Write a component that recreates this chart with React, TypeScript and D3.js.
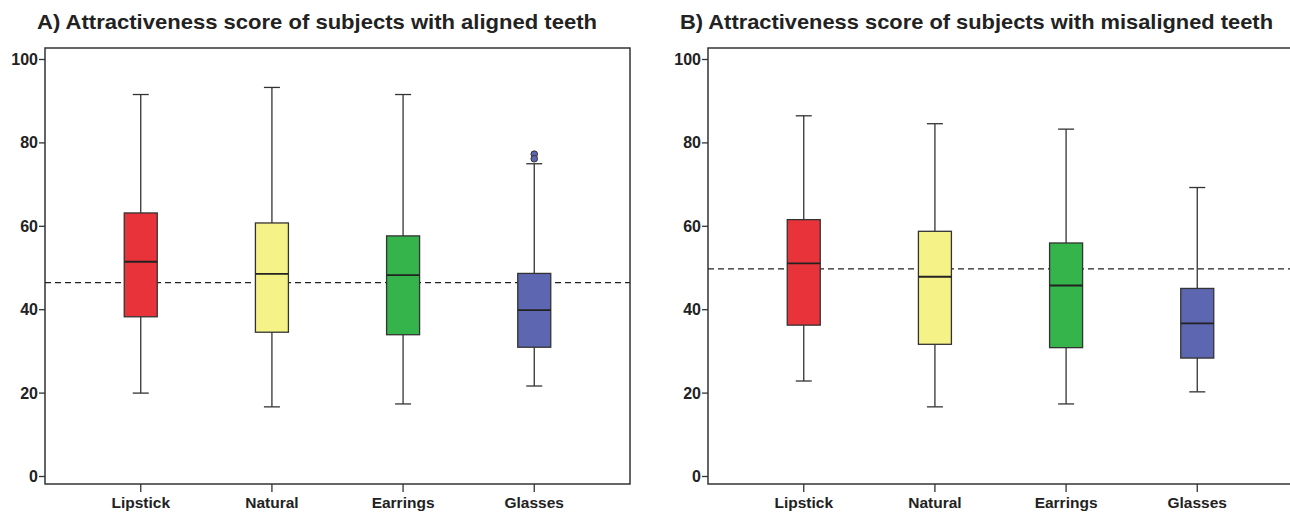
import React from 'react';
import * as d3 from 'd3';

// categories and colours
const CATEGORIES = ['Lipstick', 'Natural', 'Earrings', 'Glasses'];
const COLORS = ['#e8333a', '#f5f288', '#34b44b', '#5d66b0'];
const Y_TICKS = [0, 20, 40, 60, 80, 100];

// panel A: aligned teeth  [low whisker, Q1, median, Q3, high whisker]
const ALIGNED_LOW = [20.0, 16.7, 17.4, 21.7];
const ALIGNED_Q1 = [38.3, 34.6, 34.0, 31.0];
const ALIGNED_MED = [51.5, 48.6, 48.3, 39.9];
const ALIGNED_Q3 = [63.2, 60.8, 57.7, 48.7];
const ALIGNED_HIGH = [91.6, 93.3, 91.6, 75.0];
const ALIGNED_OUTLIERS = [[], [], [], [77.3, 76.2]];
const ALIGNED_MEAN = 46.5;

// panel B: misaligned teeth
const MISALIGNED_LOW = [22.9, 16.7, 17.4, 20.3];
const MISALIGNED_Q1 = [36.3, 31.7, 30.9, 28.4];
const MISALIGNED_MED = [51.1, 47.9, 45.8, 36.7];
const MISALIGNED_Q3 = [61.6, 58.8, 56.0, 45.1];
const MISALIGNED_HIGH = [86.5, 84.6, 83.3, 69.3];
const MISALIGNED_OUTLIERS = [[], [], [], []];
const MISALIGNED_MEAN = 49.8;

const FONT = '"Liberation Sans", Arial, sans-serif';

type PanelProps = {
  title: string;
  titleX: number;
  titleW: number;
  left: number;
  low: number[];
  q1: number[];
  med: number[];
  q3: number[];
  high: number[];
  outliers: number[][];
  mean: number;
};

const Panel = ({ title, titleX, titleW, left, low, q1, med, q3, high, outliers, mean }: PanelProps) => {
  const top = 48;
  const bottom = 484;
  const width = 585;
  const right = left + width;

  const y = d3.scaleLinear().domain([0, 100]).range([476.5, 59.5]);
  const x = d3.scalePoint<string>().domain(CATEGORIES).range([left, right]).padding(0.73);

  const boxW = 33;
  const capW = 16;

  return (
    <g>
      <text x={titleX} y={29} fontFamily={FONT} fontWeight="bold" fontSize={20.5} fill="#222"
        textLength={titleW} lengthAdjust="spacingAndGlyphs">
        {title}
      </text>
      {/* frame */}
      <rect x={left} y={top} width={width} height={bottom - top} fill="none" stroke="#333" strokeWidth={1.5} />

      {/* y axis ticks */}
      {Y_TICKS.map(t => (
        <g key={t}>
          <line x1={left - 6} x2={left} y1={y(t)} y2={y(t)} stroke="#333" strokeWidth={1.3} />
          <text x={left - 7} y={y(t) + 5.5} textAnchor="end" fontFamily={FONT} fontWeight="bold" fontSize={16} fill="#222">
            {t}
          </text>
        </g>
      ))}

      {/* x axis ticks */}
      {CATEGORIES.map(c => (
        <g key={c}>
          <line x1={x(c)} x2={x(c)} y1={bottom} y2={bottom + 8} stroke="#333" strokeWidth={1.3} />
          <text x={x(c)} y={508} textAnchor="middle" fontFamily={FONT} fontWeight="bold" fontSize={15.5} fill="#222">
            {c}
          </text>
        </g>
      ))}

      {/* mean reference line */}
      <line x1={left} x2={right} y1={y(mean)} y2={y(mean)} stroke="#222" strokeWidth={1.2} strokeDasharray="6,4" />

      {/* boxes */}
      {CATEGORIES.map((c, i) => {
        const cx = x(c) as number;
        return (
          <g key={c}>
            <line x1={cx} x2={cx} y1={y(high[i])} y2={y(q3[i])} stroke="#333" strokeWidth={1.3} />
            <line x1={cx} x2={cx} y1={y(q1[i])} y2={y(low[i])} stroke="#333" strokeWidth={1.3} />
            <line x1={cx - capW / 2} x2={cx + capW / 2} y1={y(high[i])} y2={y(high[i])} stroke="#333" strokeWidth={1.3} />
            <line x1={cx - capW / 2} x2={cx + capW / 2} y1={y(low[i])} y2={y(low[i])} stroke="#333" strokeWidth={1.3} />
            <rect
              x={cx - boxW / 2}
              y={y(q3[i])}
              width={boxW}
              height={y(q1[i]) - y(q3[i])}
              fill={COLORS[i]}
              stroke="#333"
              strokeWidth={1.3}
            />
            <line x1={cx - boxW / 2} x2={cx + boxW / 2} y1={y(med[i])} y2={y(med[i])} stroke="#222" strokeWidth={1.8} />
            {outliers[i].map((o, j) => (
              <circle key={j} cx={cx} cy={y(o)} r={3.3} fill={COLORS[i]} stroke="#333" strokeWidth={1} />
            ))}
          </g>
        );
      })}
    </g>
  );
};

const App = () => {
  return (
    <svg width={1290} height={512} style={{ position: 'absolute', left: 0, top: 0, background: '#fff' }}>
      <rect width={1290} height={512} fill="#fff" />
      <Panel
        title="A)  Attractiveness score of subjects with aligned teeth"
        titleX={37}
        titleW={560}
        left={45}
        low={ALIGNED_LOW}
        q1={ALIGNED_Q1}
        med={ALIGNED_MED}
        q3={ALIGNED_Q3}
        high={ALIGNED_HIGH}
        outliers={ALIGNED_OUTLIERS}
        mean={ALIGNED_MEAN}
      />
      <Panel
        title="B) Attractiveness score of subjects with misaligned teeth"
        titleX={680}
        titleW={593}
        left={708}
        low={MISALIGNED_LOW}
        q1={MISALIGNED_Q1}
        med={MISALIGNED_MED}
        q3={MISALIGNED_Q3}
        high={MISALIGNED_HIGH}
        outliers={MISALIGNED_OUTLIERS}
        mean={MISALIGNED_MEAN}
      />
    </svg>
  );
};

export default App;
